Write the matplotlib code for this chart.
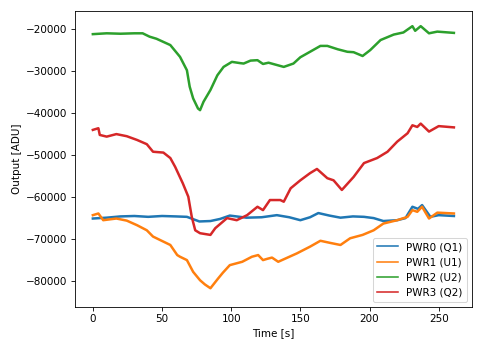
import matplotlib
matplotlib.use("Agg")
import matplotlib.pyplot as plt

# PWR0 (Q1)
t0 = [0, 10, 20, 30, 40, 50, 60, 68, 77, 85, 92, 99, 111, 122, 133, 142, 150, 157, 163, 171, 179, 188, 196, 203, 210, 220, 226, 231, 235, 238, 244, 250, 261]
p0 = [-65100, -64900, -64600, -64500, -64700, -64500, -64600, -64700, -65800, -65700, -65200, -64400, -64900, -64800, -64300, -64800, -65500, -64800, -63800, -64400, -64900, -64600, -64700, -65000, -65700, -65500, -65000, -62300, -62800, -61900, -64700, -64300, -64500]

# PWR1 (U1)
t1 = [0, 4, 7.5, 17, 24.5, 32, 39, 43.5, 48.5, 56, 61, 63, 68, 72.5, 77.5, 81, 85, 90.5, 94, 99, 108, 115, 119.5, 123, 126, 129.5, 134, 147.5, 157, 164.5, 171.5, 179, 186, 195, 203, 210, 220, 227.5, 231, 234.5, 238, 243, 249, 261]
p1 = [-64300, -63900, -65500, -65100, -65600, -66700, -67900, -69400, -70200, -71400, -73800, -74200, -75000, -77800, -79800, -80800, -81700, -79400, -78000, -76200, -75400, -74200, -73800, -75000, -74700, -74400, -75400, -73400, -71800, -70400, -70900, -71400, -69800, -69000, -67900, -66300, -65500, -64700, -63100, -63500, -62300, -65100, -63700, -63900]

# PWR2 (U2)
t2 = [0, 10, 20, 30, 36, 41, 46, 56, 63, 68, 70, 72.5, 76, 77.5, 80, 85, 90, 94.5, 100.5, 106.5, 109, 114, 119, 123, 127, 138, 145, 150, 157, 164.5, 169.5, 177, 184, 188.5, 195, 200.5, 208, 217.5, 224.5, 231, 233, 237, 243, 249, 261]
p2 = [-21200, -21000, -21100, -21000, -21000, -21800, -22300, -23800, -26600, -29800, -33700, -36500, -38900, -39300, -37300, -34500, -31000, -29000, -27800, -28100, -28200, -27500, -27400, -28300, -28000, -29000, -28200, -26700, -25400, -24000, -24000, -24800, -25400, -25500, -26400, -25000, -22600, -21300, -20800, -19300, -20400, -19300, -21000, -20600, -20900]

# PWR3 (Q2)
t3 = [0, 4, 5, 10, 17, 24.5, 32, 39, 43.5, 51, 56, 59.5, 65, 69, 71.5, 74, 77.5, 85, 88.5, 97, 104, 111.5, 119, 123, 128, 135.5, 138, 143, 150, 157, 162, 169.5, 174, 180, 188.5, 196, 205.5, 213, 220, 227.5, 231, 234.5, 237, 243, 250, 261]
p3 = [-44000, -43600, -45200, -45600, -45000, -45500, -46400, -47400, -49200, -49400, -50700, -52800, -56700, -59900, -64700, -67900, -68600, -69000, -67400, -65000, -65500, -64300, -62300, -63100, -60700, -60700, -61100, -57900, -56000, -54300, -53300, -55500, -56000, -58300, -55200, -51900, -50700, -49200, -46800, -44800, -42900, -43300, -42500, -44400, -43100, -43400]

fig, ax = plt.subplots(figsize=(483 / 75, 347 / 75), dpi=75)
fig.subplots_adjust(left=0.155, right=0.977, bottom=0.115, top=0.968)

ax.plot(t0, p0, color="#1f77b4", lw=2.4, label="PWR0 (Q1)")
ax.plot(t1, p1, color="#ff7f0e", lw=2.4, label="PWR1 (U1)")
ax.plot(t2, p2, color="#2ca02c", lw=2.4, label="PWR2 (U2)")
ax.plot(t3, p3, color="#d62728", lw=2.4, label="PWR3 (Q2)")

ax.set_xlim(-13, 274)
ax.set_ylim(-86190, -15714)
ax.set_xlabel("Time [s]")
ax.set_ylabel("Output [ADU]")

leg = ax.legend(loc="lower right")
for line in leg.get_lines():
    line.set_linewidth(1.5)

fig.savefig("out.png", dpi=75)
